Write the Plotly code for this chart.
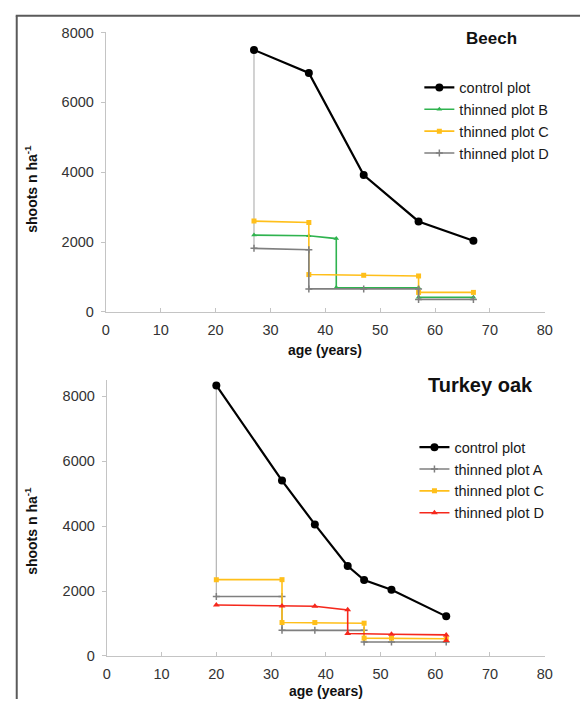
import plotly.graph_objects as go

# ---------------- data ----------------
beech_control_age = [27, 37, 47, 57, 67]
beech_control = [7500, 6840, 3920, 2590, 2040]
beech_B_age = [27, 37, 42, 42, 57, 57, 67]
beech_B = [2200, 2180, 2100, 700, 690, 420, 420]
beech_C_age = [27, 37, 37, 47, 57, 57, 67]
beech_C = [2600, 2560, 1070, 1050, 1030, 560, 560]
beech_D_age = [27, 37, 37, 47, 57, 57, 67]
beech_D = [1820, 1780, 660, 660, 660, 360, 360]

oak_control_age = [20, 32, 38, 44, 47, 52, 62]
oak_control = [8330, 5400, 4050, 2770, 2340, 2040, 1220]
oak_A_age = [20, 32, 32, 38, 47, 47, 52, 62]
oak_A = [1830, 1830, 790, 790, 790, 430, 430, 430]
oak_C_age = [20, 32, 32, 38, 47, 47, 52, 62]
oak_C = [2350, 2350, 1030, 1030, 1010, 550, 550, 530]
oak_D_age = [20, 32, 38, 44, 44, 52, 62, 62]
oak_D = [1570, 1540, 1530, 1420, 690, 670, 650, 480]

x_ticks = [0, 10, 20, 30, 40, 50, 60, 70, 80]

W, H = 588, 707
FONT = "Liberation Sans, Arial, sans-serif"
BLACK = "#000000"
GREEN = "#2fb34f"
ORANGE = "#ffbf1a"
GRAY = "#7f7f7f"
RED = "#f5281c"
LIGHT = "#b4b4b4"

fig = go.Figure()


def series(x, y, name, color, symbol, size, width, xa, ya, legend, mline=0):
    fig.add_trace(go.Scatter(
        x=x, y=y, name=name, mode="lines+markers",
        line=dict(color=color, width=width),
        marker=dict(color=color, symbol=symbol, size=size,
                    line=dict(color=color, width=mline)),
        xaxis=xa, yaxis=ya, legend=legend))


# connectors (vertical drop from control to thinned plot at first survey)
fig.add_trace(go.Scatter(x=[beech_control_age[0], beech_D_age[0]],
                         y=[beech_control[0], beech_D[0]], mode="lines",
                         line=dict(color=LIGHT, width=1.2), showlegend=False,
                         xaxis="x", yaxis="y", hoverinfo="skip"))
fig.add_trace(go.Scatter(x=[oak_control_age[0], oak_A_age[0]],
                         y=[oak_control[0], oak_A[0]], mode="lines",
                         line=dict(color=LIGHT, width=1.2), showlegend=False,
                         xaxis="x2", yaxis="y2", hoverinfo="skip"))

# Beech
series(beech_control_age, beech_control, "control plot", BLACK, "circle", 8, 2.2, "x", "y", "legend")
series(beech_B_age, beech_B, "thinned plot B", GREEN, "triangle-up", 5, 1.6, "x", "y", "legend")
series(beech_C_age, beech_C, "thinned plot C", ORANGE, "square", 5, 1.6, "x", "y", "legend")
series(beech_D_age, beech_D, "thinned plot D", GRAY, "cross-thin", 5, 1.6, "x", "y", "legend", mline=1.5)

# Turkey oak
series(oak_control_age, oak_control, "control plot", BLACK, "circle", 8, 2.2, "x2", "y2", "legend2")
series(oak_A_age, oak_A, "thinned plot A", GRAY, "cross-thin", 5, 1.6, "x2", "y2", "legend2", mline=1.5)
series(oak_C_age, oak_C, "thinned plot C", ORANGE, "square", 5, 1.6, "x2", "y2", "legend2")
series(oak_D_age, oak_D, "thinned plot D", RED, "triangle-up", 6, 1.6, "x2", "y2", "legend2")


def px(xp):  # page pixel -> paper fraction
    return xp / W


def py(yp):
    return 1 - yp / H


xaxis_common = dict(range=[0, 80], tickvals=x_ticks, showline=True, linecolor="#c4c4c4",
                    linewidth=1.2, ticks="inside", ticklen=4, tickcolor="#c4c4c4",
                    showgrid=False, zeroline=False, fixedrange=True,
                    tickfont=dict(family=FONT, size=14.5, color="#333333"),
                    ticklabelstandoff=5)
yaxis_common = dict(showline=True, linecolor="#c4c4c4", linewidth=1.2, ticks="outside",
                    ticklen=4, tickcolor="#c4c4c4", showgrid=False, zeroline=False,
                    tickfont=dict(family=FONT, size=14.5, color="#333333"),
                    dtick=2000, ticklabelstandoff=4)

legend_common = dict(font=dict(family=FONT, size=14.5, color="#1a1a1a"),
                     bgcolor="rgba(0,0,0,0)", borderwidth=0, xanchor="left",
                     yanchor="top", itemclick=False, itemdoubleclick=False,
                     tracegroupgap=0)

fig.update_layout(
    width=W, height=H,
    margin=dict(l=0, r=0, t=0, b=0),
    paper_bgcolor="white", plot_bgcolor="white",
    showlegend=True,
    xaxis=dict(domain=[px(104), px(552)], anchor="y", **xaxis_common),
    yaxis=dict(domain=[py(311), py(25)], anchor="x", range=[0, 8000], **yaxis_common),
    xaxis2=dict(domain=[px(105), px(552)], anchor="y2", **xaxis_common),
    yaxis2=dict(domain=[py(663), py(380.5)], anchor="x2", range=[0, 8500], **yaxis_common),
    legend=dict(x=px(424), y=py(65), **legend_common),
    legend2=dict(x=px(419), y=py(433), **legend_common),
)

annotations = [
    dict(text="<b>Beech</b>", x=px(498), y=py(30.7), font=dict(family=FONT, size=17, color="#111")),
    dict(text="<b>Turkey oak</b>", x=px(486), y=py(385.5), font=dict(family=FONT, size=20, color="#111")),
    dict(text="<b>age (years)</b>", x=px(328), y=py(350), font=dict(family=FONT, size=14, color="#111")),
    dict(text="<b>age (years)</b>", x=px(328.5), y=py(699), font=dict(family=FONT, size=14, color="#111")),
    dict(text="<b>shoots n ha<sup>-1</sup></b>", x=px(27.5), y=py(185), textangle=-90,
         font=dict(family=FONT, size=14, color="#111")),
    dict(text="<b>shoots n ha<sup>-1</sup></b>", x=px(27.5), y=py(535), textangle=-90,
         font=dict(family=FONT, size=14, color="#111")),
]
for a in annotations:
    a.update(xref="paper", yref="paper", showarrow=False, xanchor="center", yanchor="middle")
fig.update_layout(annotations=annotations)

# frame around the figure (left and top border)
fig.update_layout(shapes=[
    dict(type="line", xref="paper", yref="paper", x0=px(13), x1=px(13), y0=0, y1=py(8),
         line=dict(color="#5a5a5a", width=2)),
    dict(type="line", xref="paper", yref="paper", x0=px(12), x1=1, y0=py(8), y1=py(8),
         line=dict(color="#5a5a5a", width=2)),
])

fig.write_html("out.html", config=dict(displayModeBar=False),
               post_script="document.body.style.margin='0';document.body.style.overflow='hidden';")
